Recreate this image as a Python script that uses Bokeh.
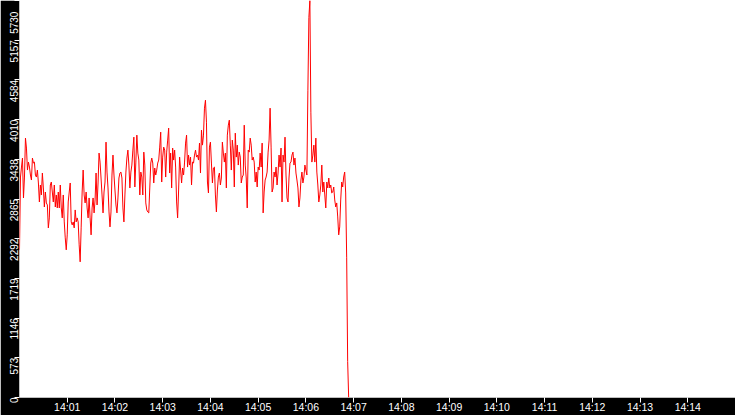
import math
import pandas as pd
from bokeh.plotting import figure
from bokeh.models import Range1d, FixedTicker, DatetimeTickFormatter, ColumnDataSource
from bokeh.embed import file_html
from bokeh.resources import INLINE

# ---------------- data ----------------
day = "2024-01-01"
start_time = "14:00:00"
sample_interval = "1250ms"
x_range_start = "14:00"
x_range_end = "14:15"
x_tick_labels = ["14:01", "14:02", "14:03", "14:04", "14:05", "14:06", "14:07",
                 "14:08", "14:09", "14:10", "14:11", "14:12", "14:13", "14:14"]
y_max = 5730
y_tick_values = [0, 573, 1146, 1719, 2292, 2865, 3438, 4010, 4584, 5157, 5730]
y_tick_labels = ["0", "573", "1146", "1719", "2292", "2865", "3438", "4010",
                 "4584", "5157", "5730"]

values_1 = [2131, 3182, 3326, 3456, 2880, 3182, 3744, 3600, 3283, 3398,
            3326, 3211, 3139, 3456, 3384, 3398, 3211, 3182, 3283, 3096,
            2822, 3067, 2923, 3240, 3024, 2750, 2966, 2808, 2779, 2448,
            2592, 3067, 3110, 2966, 2822, 3067, 2750, 2923, 2736, 2966,
            2736, 3067, 2736, 2592, 2923, 2534, 2304, 2131, 2347, 2822,
            2966, 3096, 2534, 2491, 2534, 2448, 2707, 2534, 2592, 2534,
            2203, 1958, 2448, 2966, 3283, 2923, 2808, 2966, 2736, 2592,
            2880, 2592, 2347, 2736, 2880, 2664, 2851, 3240, 2779, 3096,
            3528, 3398, 3168, 2923, 2664, 2966, 3110, 3686, 3254]
values_2 = [3024, 2678, 2462, 2678, 3211, 3499, 3211, 2995, 2779, 2664,
            2880, 3168, 3240, 3254, 3168, 2736, 2534, 2923, 3254, 3456,
            3571, 3355, 3024, 3254, 3355, 3571, 3758, 3038, 3398, 3787,
            3528, 3427, 2923, 3254, 3182, 2923, 3542, 3355, 2808, 2707,
            2678, 2664, 3024, 3384, 3456, 3384, 3096, 3312, 3211, 3283,
            3384, 3427, 3614, 3830, 3110, 3470, 3614, 3571, 3182, 3542,
            3715, 3888, 3240, 3528, 3024, 3600, 3427, 3571, 3326, 2822,
            2592, 2995, 3470, 3283, 3096, 3312, 3211, 3398, 3672, 3787,
            3326, 3499, 3355, 3470, 3067, 3398]
values_3 = [3384, 3499, 3571, 3470, 3499, 3427, 3672, 3240, 3859, 3643,
            3787, 4176, 4291, 3974, 3110, 2952, 3614, 3686, 3384, 3096,
            3312, 3326, 2923, 2678, 2995, 3182, 3240, 3067, 3168, 3686,
            3528, 3398, 3528, 3024, 3787, 3931, 4003, 3643, 3283, 3715,
            3571, 3038, 3816, 3470, 3643, 3355, 3542, 3470, 3096, 3182,
            3211, 3931, 3355, 3168, 2736, 3571, 3542, 3744, 3643, 3427,
            3470, 3398, 3110, 3254, 3038, 3326, 3283, 3528, 3326, 3672,
            2664, 2966, 3139, 3182, 3254, 3542, 3715, 4176, 3614, 2966,
            3024, 3254, 3182, 3326, 3067, 3240]
values_4 = [3499, 3326, 3600, 2822, 3499, 3398, 3758, 3211, 2880, 2822,
            3168, 3384, 3398, 3499, 3542, 3355, 3456, 3240, 3139, 3024,
            2750, 2880, 3139, 3254, 3096, 3182, 3355, 3283, 3211,
            4435, 5486, 5730, 4118, 3398,
            3499, 3643, 3398, 3744, 3254, 3067, 2822, 2923, 3067, 3355,
            2966, 3110, 2923, 2736, 3110, 3024, 3168, 3024, 3067, 2952,
            2966, 3038, 2851, 2750, 2808, 2606, 2347, 2462, 2851, 3110,
            3038, 3182, 3254, 2952, 2016, 518, 0]

values = values_1 + values_2 + values_3 + values_4
times = pd.date_range(f"{day} {start_time}", periods=len(values),
                      freq=sample_interval)
source = ColumnDataSource(dict(t=times.values, v=values))


def to_ms(hhmm):
    return pd.Timestamp(f"{day} {hhmm}").value / 1e6


# ---------------- figure ----------------
p = figure(width=735, height=415, x_axis_type="datetime",
           x_range=Range1d(to_ms(x_range_start), to_ms(x_range_end)),
           y_range=Range1d(0, y_max),
           output_backend="svg", toolbar_location=None,
           min_border=0, min_border_left=15, min_border_bottom=16,
           border_fill_color="black", background_fill_color="white",
           outline_line_color=None)

p.line(x="t", y="v", source=source, line_color="#ff0000", line_width=1)

p.xgrid.visible = False
p.ygrid.visible = False

xa = p.xaxis[0]
xa.ticker = FixedTicker(ticks=[to_ms(l) for l in x_tick_labels])
xa.formatter = DatetimeTickFormatter(seconds="%H:%M", minsec="%H:%M",
                                     minutes="%H:%M", hourmin="%H:%M",
                                     hours="%H:%M")
xa.axis_line_color = None
xa.major_tick_line_color = "white"
xa.major_tick_out = 5
xa.major_tick_in = 0
xa.minor_tick_line_color = None
xa.major_label_text_color = "white"
xa.major_label_text_font = "Liberation Sans"
xa.major_label_text_font_size = "10.5px"
xa.major_label_standoff = -2

ya = p.yaxis[0]
ya.ticker = FixedTicker(ticks=y_tick_values)
# top label is kept inside the canvas (shifted down) by padding its far end
overrides = {}
for val, lbl in zip(y_tick_values, y_tick_labels):
    overrides[val] = lbl + "\u00a0" * 4 if val == y_max else lbl
ya.major_label_overrides = overrides
ya.major_label_orientation = math.pi / 2
ya.axis_line_color = None
ya.major_tick_line_color = "white"
ya.major_tick_out = 5
ya.major_tick_in = 0
ya.minor_tick_line_color = None
ya.major_label_text_color = "white"
ya.major_label_text_font = "Liberation Sans"
ya.major_label_text_font_size = "10px"
ya.major_label_standoff = 0

open("out.html", "w").write(file_html(p, INLINE))
